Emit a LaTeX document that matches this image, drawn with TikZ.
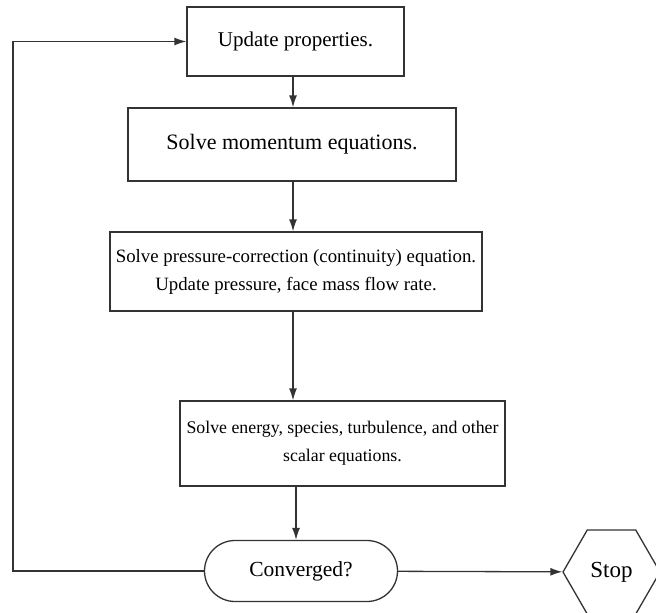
\documentclass[tikz,border=0pt]{standalone}
\usepackage{fontspec}
\setmainfont{Liberation Serif}
\usetikzlibrary{arrows.meta,positioning,shapes.geometric,shapes.misc}
\newcommand{\fsz}[1]{\fontsize{#1}{28}\selectfont}
\tikzset{box/.style={draw=black!80,line width=1.3pt,align=center,inner sep=0pt},flow/.style={-{Latex[length=12pt,width=8pt]},line width=1.3pt,draw=black!80}}

\begin{document}
\begin{tikzpicture}[x=1pt,y=-1pt]
\useasboundingbox (0,0) rectangle (656,613);
\node[box,font=\fsz{21},minimum width=217pt,minimum height=69pt] (props) at (295.5,41.5)
 {Update properties.};
\node[box,font=\fsz{22},minimum width=328pt,minimum height=73pt] (momentum) at (292,144.5)
 {Solve momentum equations.};
\node[box,font=\fsz{18.8},minimum width=372pt,minimum height=79pt] (pressure) at (296,271.5)
 {Solve pressure-correction (continuity) equation.\\Update pressure, face mass flow rate.};
\node[box,font=\fsz{17.8},minimum width=325pt,minimum height=85pt] (scalars) at (342.5,443.5)
 {Solve energy, species, turbulence, and other\\scalar equations.};
\node[box,font=\fsz{21.5},rounded rectangle,minimum width=193pt,minimum height=61pt] (conv) at (301,571)
 {Converged?};
\node[box,font=\fsz{23},regular polygon,regular polygon sides=6,minimum size=97pt] (stop) at (611.5,572)
 {Stop};
% spine of the main loop
\coordinate (spine) at (293,0);
\coordinate (spinelow) at (296,0);
\coordinate (corner) at (13,571);
\coordinate (top) at (13,41.5);
\draw[flow] (props.south-|spine) -- (momentum.north-|spine);
\draw[flow] (momentum.south-|spine) -- (pressure.north-|spine);
\draw[flow] (pressure.south-|spine) -- (scalars.north-|spine);
\draw[flow] (scalars.south-|spinelow) -- (conv.north-|spinelow);
\draw[flow] (conv) -- (stop);
\draw[flow] (conv.west) -- (corner) -- (top) -- (props.west);
\end{tikzpicture}
\end{document}
